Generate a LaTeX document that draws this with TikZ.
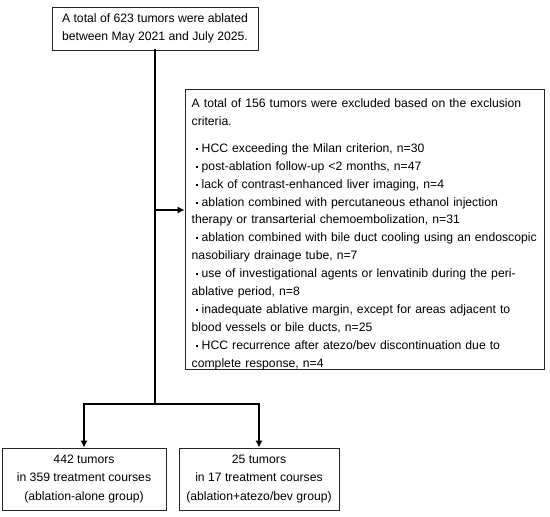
\documentclass[tikz,border=0pt]{standalone}
\usepackage{fontspec}
\setmainfont{Liberation Sans}
\usepackage{tikz}
\usetikzlibrary{positioning}
\usetikzlibrary{arrows,arrows.meta}
\usetikzlibrary{calc}
\tikzstyle{box}=[rectangle,draw=black!85,line width=1pt,inner sep=0pt,align=center,font=\fontsize{12.2}{18.3}\selectfont]
\tikzstyle{listtext}=[inner sep=0pt,align=left,text width=350pt,font=\fontsize{12.2}{17.9}\selectfont]
\tikzstyle{line} = [draw,line width=2.4pt]
\tikzstyle{edge} = [draw,line width=2.4pt,>={Latex[length=7pt,width=7.5pt]},->]
\newcommand{\bul}{\makebox[10pt][l]{\hspace{4pt}\rule[2.4pt]{2.1pt}{2.1pt}}}

\begin{document}
\begin{tikzpicture}[x=1pt,y=-1pt]

  \useasboundingbox (0,0) rectangle (550,517);

  \node[box,minimum width=206pt,minimum height=43pt] (total) at (155,28.5)
        {A total of 623 tumors were ablated\\between May 2021 and July 2025.};

  \node[box,minimum width=359pt,minimum height=280pt] (excl) at (364.5,229) {};
  \node[listtext,anchor=north west] (excltext) at ([xshift=7pt,yshift=-10pt]excl.north west)
        {A total of 156 tumors were excluded based on the exclusion\\
         criteria.\\[9pt]
         \bul HCC exceeding the Milan criterion, n=30\\
         \bul post-ablation follow-up <2 months, n=47\\
         \bul lack of contrast-enhanced liver imaging, n=4\\
         \bul ablation combined with percutaneous ethanol injection\\
         therapy or transarterial chemoembolization, n=31\\
         \bul ablation combined with bile duct cooling using an endoscopic\\
         nasobiliary drainage tube, n=7\\
         \bul use of investigational agents or lenvatinib during the peri-\\
         ablative period, n=8\\
         \bul inadequate ablative margin, except for areas adjacent to\\
         blood vessels or bile ducts, n=25\\
         \bul HCC recurrence after atezo/bev discontinuation due to\\
         complete response, n=4};

   \foreach \x/\w/\name/\label in {84/164/alone/{442 tumors\\in 359 treatment courses\\(ablation-alone group)},
                                   259/160/combo/{25 tumors\\in 17 treatment courses\\(ablation+atezo/bev group)}}
          \node[box,minimum width=\w pt,minimum height=62pt] (\name) at (\x,479) {\label};

  \coordinate (split) at (total.south |- 0,210);
  \coordinate (fork) at (total.south |- 0,404);

  \path[line,line cap=rect] (total.south) -- (fork);
  \path[edge] (split) -- (split -| excl.west);
  \path[edge,<->] (alone.north) |- (fork) -| (combo.north);

\end{tikzpicture}
\end{document}
